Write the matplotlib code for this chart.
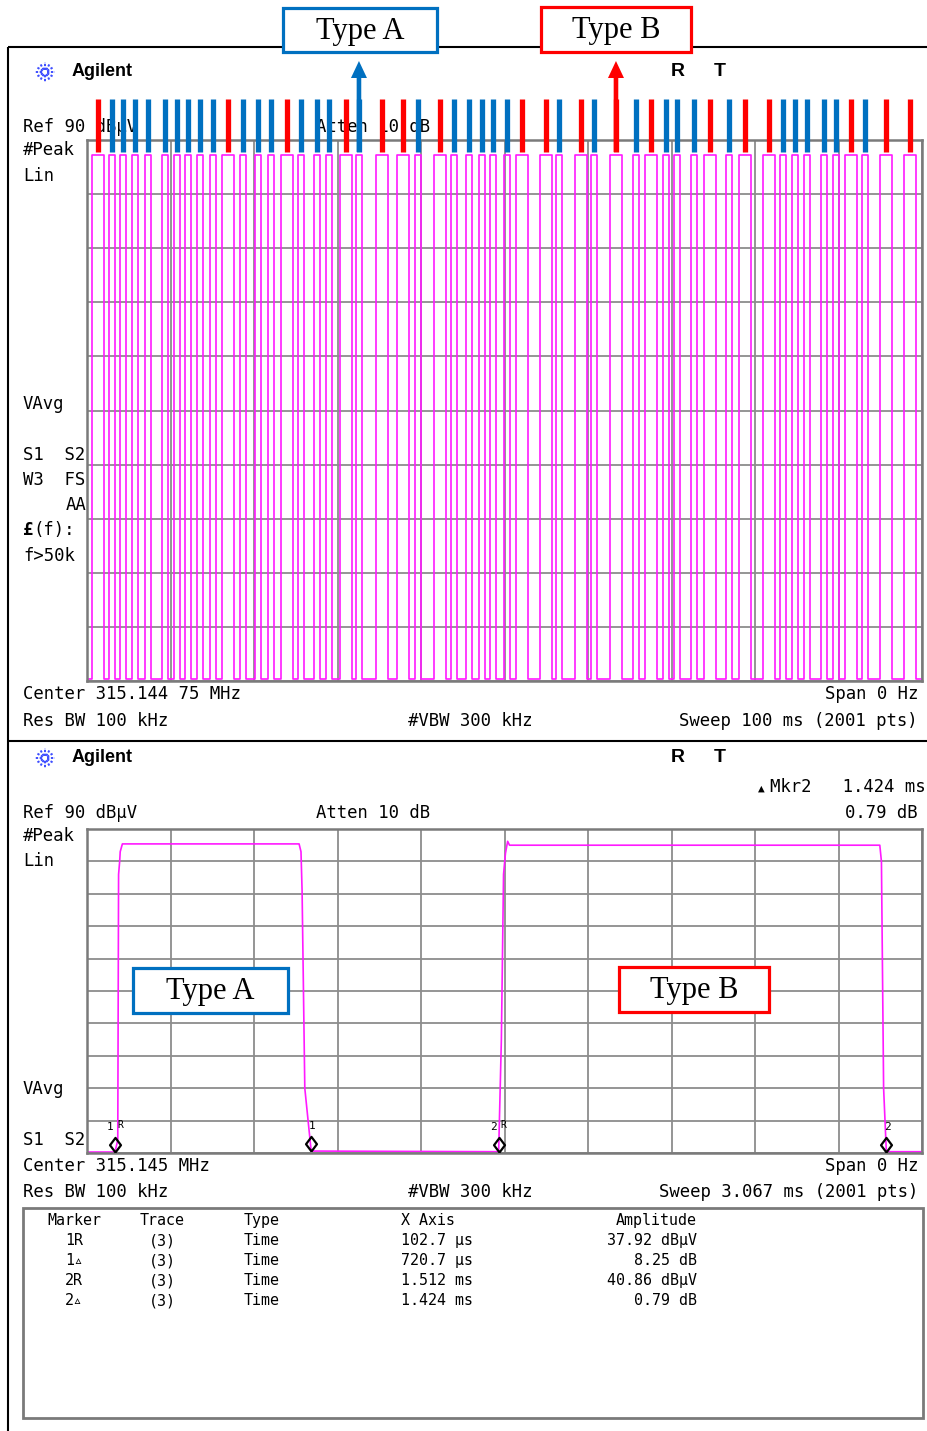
import numpy as np
import matplotlib
matplotlib.use("Agg")
import matplotlib.pyplot as plt
from matplotlib.collections import LineCollection
from matplotlib.patches import Rectangle, FancyArrow
import matplotlib.transforms as mtransforms

# ---------------- data ----------------
top_sweep_ms = 100.0
bot_sweep_ms = 3.067

# centre time (ms) of each received pulse in the 100 ms sweep, and its type
pulse_center_ms = [1.32, 2.99, 4.31, 5.75, 7.31, 9.34, 10.78, 12.10, 13.53, 15.09,
                   16.89, 18.68, 20.48, 22.04, 23.95, 25.63, 27.54, 28.98, 31.02, 32.57,
                   35.33, 37.84, 39.64, 42.28, 43.95, 45.75, 47.31, 48.62, 50.30, 52.10,
                   54.97, 56.53, 59.16, 60.72, 63.35, 65.75, 67.54, 69.34, 70.66, 72.69,
                   74.61, 76.89, 78.80, 81.68, 83.35, 84.79, 86.23, 88.26, 89.70, 91.50,
                   93.17, 95.69, 98.56]
pulse_type = ['B', 'A', 'A', 'A', 'A', 'A', 'A', 'A', 'A', 'A',
              'B', 'A', 'A', 'A', 'B', 'A', 'A', 'A', 'B', 'A',
              'B', 'B', 'A', 'B', 'A', 'A', 'A', 'A', 'A', 'B',
              'B', 'A', 'B', 'A', 'B', 'A', 'B', 'A', 'A', 'A',
              'B', 'A', 'B', 'B', 'A', 'A', 'A', 'A', 'A', 'B',
              'A', 'B', 'B']
highlight_pulse = {'A': 19, 'B': 34}
top_high_div = 9.72
top_low_div = 0.04

# zoomed 3.067 ms sweep trace (ms, divisions)
bot_t_ms = [0.0, 0.1027, 0.113, 0.116, 0.120, 0.122, 0.130, 0.779, 0.786, 0.790,
            0.800, 0.8234, 1.512, 1.522, 1.530, 1.537, 1.545, 1.552, 2.912, 2.918,
            2.926, 2.936, 3.067]
bot_v_div = [0.03, 0.03, 0.4, 8.6, 9.0, 9.3, 9.54, 9.54, 9.3, 8.1,
             2.0, 0.06, 0.04, 3.5, 8.6, 9.25, 9.62, 9.5, 9.5, 9.0,
             2.0, 0.04, 0.04]

# marker table
marker_ref_ms = [0.1027, 1.512]
marker_delta_ms = [0.7207, 1.424]
marker_ref_dbuv = [37.92, 40.86]
marker_delta_db = [8.25, 0.79]
ref_level_dbuv = 90.0
tbl_marker = ['1R', '1\u25b5', '2R', '2\u25b5']
tbl_trace = ['(3)', '(3)', '(3)', '(3)']
tbl_type = ['Time', 'Time', 'Time', 'Time']
tbl_xaxis = ['102.7 \u00b5s', '720.7 \u00b5s', '1.512 ms', '1.424 ms']
tbl_amp = ['37.92 dB\u00b5V', '8.25 dB', '40.86 dB\u00b5V', '0.79 dB']

pulse_width_ms = {'A': marker_delta_ms[0], 'B': marker_delta_ms[1]}

# ---------------- styles ----------------
W, H = 927, 1431
MAG = '#ff1aff'
BLUE = '#0070c0'
RED = '#ff0000'
GRID = '#8c8c8c'
MONO = ['DejaVu Sans Mono', 'DejaVu Sans']
FS = 12.4
FS_T = 10.8

fig = plt.figure(figsize=(W / 100, H / 100), dpi=100)
fig.patch.set_facecolor('white')


def px_rect(x0, y0, x1, y1):
    return [x0 / W, 1 - y1 / H, (x1 - x0) / W, (y1 - y0) / H]


bg = fig.add_axes([0, 0, 1, 1], zorder=0)
bg.set_xlim(0, W)
bg.set_ylim(H, 0)
bg.axis('off')

ax1 = fig.add_axes(px_rect(87, 140, 922, 681), zorder=1)
ax2 = fig.add_axes(px_rect(87, 829, 922, 1153), zorder=1)

fg = fig.add_axes([0, 0, 1, 1], zorder=3)
fg.set_xlim(0, W)
fg.set_ylim(H, 0)
fg.axis('off')

for ax, sweep in ((ax1, top_sweep_ms), (ax2, bot_sweep_ms)):
    ax.set_xlim(0, sweep)
    ax.set_ylim(0, 10)
    ax.set_xticks(np.linspace(0, sweep, 11))
    ax.set_yticks(np.arange(0, 11))
    ax.grid(True, color=GRID, lw=1.3)
    ax.tick_params(length=0, labelbottom=False, labelleft=False)
    for sp in ax.spines.values():
        sp.set_color('#7a7a7a')
        sp.set_linewidth(1.8)
    ax.set_axisbelow(True)

# ---- top trace ----
tt, vv = [0.0], [top_low_div]
for c, ty in zip(pulse_center_ms, pulse_type):
    w = pulse_width_ms[ty]
    s = c - w / 2
    tt += [s, s, s + w, s + w]
    vv += [top_low_div, top_high_div, top_high_div, top_low_div]
tt.append(top_sweep_ms)
vv.append(top_low_div)
ax1.plot(tt, vv, color=MAG, lw=1.2)

# ---- bottom trace ----
ax2.plot(bot_t_ms, bot_v_div, color=MAG, lw=1.2)

# markers (diamond with its lower tip on the marker point)
diamond = [(0, 0), (-0.75, 1), (0, 2), (0.75, 1), (0, 0)]
mk_x, mk_v, mk_lab = [], [], []
for i in range(2):
    r = marker_ref_ms[i]
    d = r + marker_delta_ms[i]
    rv = 10 * 10 ** ((marker_ref_dbuv[i] - ref_level_dbuv) / 20)
    dv = 10 * 10 ** ((marker_ref_dbuv[i] + marker_delta_db[i] - ref_level_dbuv) / 20)
    mk_x += [r, d]
    mk_v += [rv, dv]
    mk_lab += [(str(i + 1), True), (str(i + 1), False)]
ax2.plot(mk_x, mk_v, ls='none', marker=diamond, markersize=21, mec='black',
         mfc='none', mew=1.6, clip_on=False, zorder=5)
for x, v, (num, is_ref) in zip(mk_x, mk_v, mk_lab):
    if is_ref:
        ax2.annotate(num, xy=(x, v), xytext=(-5, 25), textcoords='offset pixels',
                     ha='center', va='center', fontsize=8, family=MONO)
        ax2.annotate('R', xy=(x, v), xytext=(5, 27), textcoords='offset pixels',
                     ha='center', va='center', fontsize=7, family=MONO)
    else:
        ax2.annotate(num, xy=(x, v), xytext=(1, 25), textcoords='offset pixels',
                     ha='center', va='center', fontsize=8, family=MONO)

# ---- colored pulse bars above the top screen ----
blend = mtransforms.blended_transform_factory(ax1.transData, fg.transData)
col = {'A': BLUE, 'B': RED}
segs = [[(c, 152), (c, 99)] for c in pulse_center_ms]
lc = LineCollection(segs, colors=[col[t] for t in pulse_type], linewidths=3.8,
                    transform=blend, zorder=4)
fg.add_collection(lc, autolim=False)

to_fg = fg.transData.inverted()
for ty, idx in highlight_pulse.items():
    xd = blend.transform((pulse_center_ms[idx], 0))
    xp = to_fg.transform(xd)[0]
    fg.add_patch(FancyArrow(xp, 152, 0, 61 - 152, width=4.6, head_width=16,
                            head_length=17, length_includes_head=True,
                            color=col[ty], lw=0, zorder=5))


# ---- label boxes ----
def type_box(x0, y0, x1, y1, label, color):
    fg.add_patch(Rectangle((x0, y0), x1 - x0, y1 - y0, facecolor='white',
                           edgecolor=color, lw=2.3, zorder=6))
    fg.text((x0 + x1) / 2, (y0 + y1) / 2 + 1, label, ha='center', va='center',
            fontsize=22, family='Liberation Serif', zorder=7)


# frame lines
bg.plot([8, W], [47, 47], color='black', lw=1.5, solid_capstyle='butt')
bg.plot([8.5, 8.5], [47, H], color='black', lw=1.5, solid_capstyle='butt')
bg.plot([8, W], [741, 741], color='black', lw=1.5, solid_capstyle='butt')

type_box(283, 8, 437, 52, 'Type A', BLUE)
type_box(541, 7, 691, 52, 'Type B', RED)
type_box(133, 968, 288, 1013, 'Type A', BLUE)
type_box(619, 967, 769, 1012, 'Type B', RED)


# ---- header / annotation text ----
def logo(cx, cy):
    for a in np.linspace(0, 2 * np.pi, 12, endpoint=False):
        c, s = np.cos(a), np.sin(a)
        bg.plot([cx + 2.5 * c, cx + 10 * c], [cy + 2.5 * s, cy + 10 * s],
                color='#3d4dff', lw=1.4, ls=(0, (1.2, 0.8)))


def t(x, y, s, ha='left', fs=FS, **kw):
    bg.text(x, y, s, ha=ha, va='center', fontsize=fs, family=MONO, **kw)


for y0 in (72, 758):
    logo(45, y0)
    bg.text(72, y0, 'Agilent', ha='left', va='center', fontsize=13,
            family='Liberation Sans', weight='bold')
    bg.text(678, y0 - 1, 'R', ha='center', va='center', fontsize=14,
            family='Liberation Sans', weight='bold')
    bg.text(720, y0 - 1, 'T', ha='center', va='center', fontsize=14,
            family='Liberation Sans', weight='bold')

# top screen
t(23, 127, 'Ref 90 dB\u00b5V')
t(316, 127, 'Atten 10 dB')
t(23, 150, '#Peak')
t(23, 176, 'Lin')
t(23, 404, 'VAvg')
t(23, 455, 'S1  S2')
t(23, 480, 'W3  FS')
t(86, 505, 'AA', ha='right')
bg.text(23, 530, '\u00a3', ha='left', va='center', fontsize=FS, family=MONO,
        weight='bold')
t(33, 530, '(f):')
t(23, 556, 'f>50k')
t(23, 694, 'Center 315.144 75 MHz')
t(918, 694, 'Span 0 Hz', ha='right')
t(23, 721, 'Res BW 100 kHz')
t(408, 721, '#VBW 300 kHz')
t(918, 721, 'Sweep 100 ms (2001 pts)', ha='right')

# bottom screen
bg.text(761, 789, '\u25b2', ha='center', va='center', fontsize=8, family=MONO)
t(926, 787, 'Mkr2   1.424 ms', ha='right')
t(918, 813, '0.79 dB', ha='right')
t(23, 813, 'Ref 90 dB\u00b5V')
t(316, 813, 'Atten 10 dB')
t(23, 836, '#Peak')
t(23, 861, 'Lin')
t(23, 1089, 'VAvg')
t(23, 1140, 'S1  S2')
t(23, 1166, 'Center 315.145 MHz')
t(918, 1166, 'Span 0 Hz', ha='right')
t(23, 1192, 'Res BW 100 kHz')
t(408, 1192, '#VBW 300 kHz')
t(918, 1192, 'Sweep 3.067 ms (2001 pts)', ha='right')

# marker table
bg.add_patch(Rectangle((23.5, 1207.5), 900, 210, facecolor='white',
                       edgecolor='#7a7a7a', lw=2.0))
for x, s, ha in ((74, 'Marker', 'center'), (162, 'Trace', 'center'),
                 (280, 'Type', 'right'), (401, 'X Axis', 'left'),
                 (697, 'Amplitude', 'right')):
    bg.text(x, 1225, s, ha=ha, va='baseline', fontsize=FS_T, family=MONO)
for i in range(len(tbl_marker)):
    y = 1245 + 20 * i
    for x, s, ha in ((74, tbl_marker[i], 'center'), (162, tbl_trace[i], 'center'),
                     (280, tbl_type[i], 'right'), (401, tbl_xaxis[i], 'left'),
                     (697, tbl_amp[i], 'right')):
        bg.text(x, y, s, ha=ha, va='baseline', fontsize=FS_T, family=MONO)

fig.savefig('out.png', dpi=100, facecolor='white')
